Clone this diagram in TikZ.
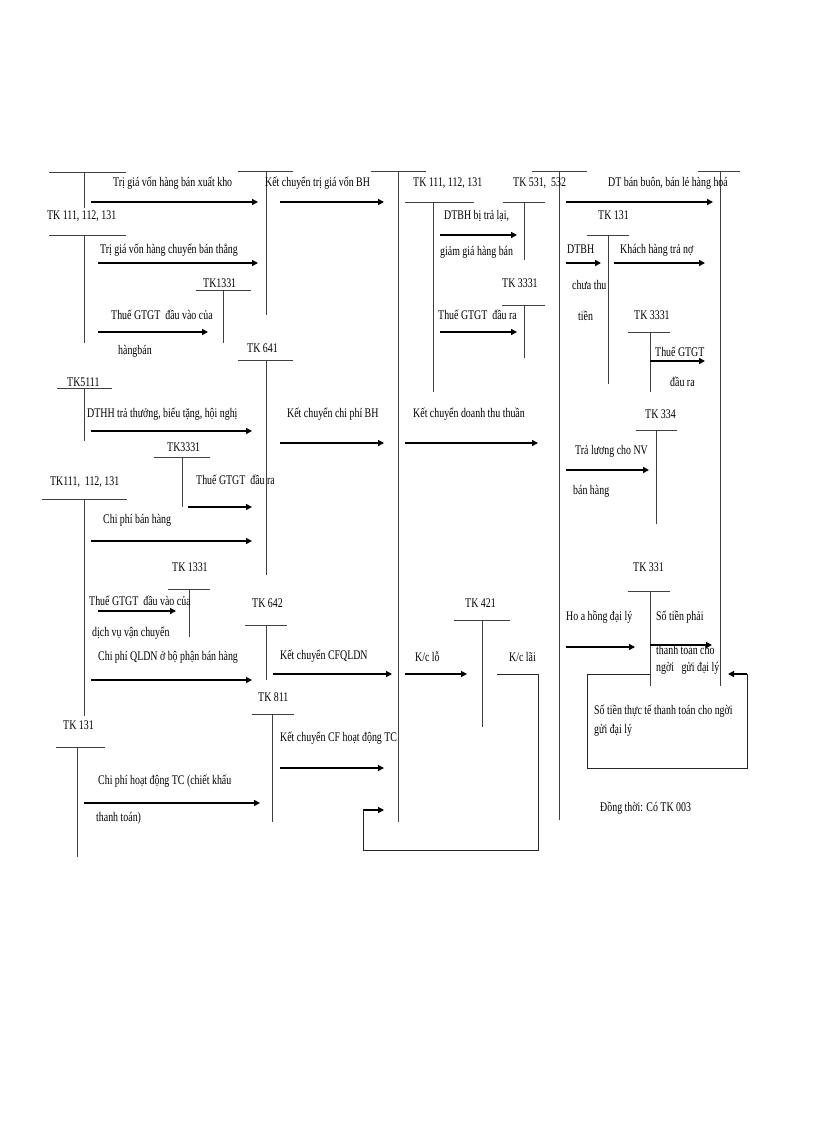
\documentclass[tikz,border=0pt]{standalone}
\usepackage{fontspec}
\setmainfont{Liberation Serif}[FakeStretch=0.75]
\usetikzlibrary{arrows.meta}
\tikzset{
  tline/.style={draw=black!75, line width=0.9pt},
  arrline/.style={draw=black, line width=1.3pt, -{Triangle[length=6pt,width=6pt]}},
  plainline/.style={draw=black!85, line width=1pt},
  lab/.style={anchor=base west, inner sep=0pt, font=\fontsize{13.2}{15}\selectfont}
}
\newcommand\tacc[6]{%
  \coordinate (#1-l) at (#2,#4); \coordinate (#1-r) at (#3,#4);
  \coordinate (#1-t) at (#5,#4); \coordinate (#1-b) at (#5,#6);
  \draw[tline] (#1-l) -- (#1-r); \draw[tline] (#1-t) -- (#1-b);}
\newcommand\harr[4]{%
  \coordinate (#1-s) at (#2,#4); \coordinate (#1-e) at (#3,#4);
  \draw[arrline] (#1-s) -- (#1-e);}
\newcommand\lbl[4]{\node[lab] (#1) at (#2,#3) {#4};}
\begin{document}
\begin{tikzpicture}[x=1pt,y=-1pt]
\useasboundingbox (0,0) rectangle (816,1123);
% T accounts
\tacc{t1}{49}{126}{172}{84}{208}
\tacc{t2}{49}{126}{235}{84}{343}
\tacc{t3}{196}{251}{290}{223}{343}
\tacc{t4}{238}{293}{171}{266}{315}
\tacc{t5}{371}{426}{171}{398}{822}
\tacc{t6}{405}{474}{202}{433}{392}
\tacc{t7}{503}{545}{202}{524}{260}
\tacc{t8}{502}{545}{305}{524}{358}
\tacc{t9}{532}{587}{171}{559}{820}
\tacc{t10}{698}{740}{171}{720}{686}
\tacc{t11}{587}{629}{235}{608}{384}
\tacc{t12}{628}{670}{332}{650}{392}
\tacc{t13}{238}{293}{360}{266}{575}
\tacc{t14}{57}{112}{388}{84}{441}
\tacc{t15}{154}{210}{457}{182}{507}
\tacc{t16}{42}{127}{499}{84}{716}
\tacc{t17}{168}{210}{589}{189}{637}
\tacc{t18}{636}{677}{430}{656}{524}
\tacc{t19}{245}{287}{625}{266}{680}
\tacc{t20}{454}{510}{620}{482}{727}
\tacc{t21}{628}{670}{591}{650}{686}
\tacc{t22}{252}{294}{714}{272}{822}
\tacc{t23}{56}{105}{747}{77}{857}
% arrows
\harr{a1}{91}{258}{202}
\harr{a2}{98}{258}{263}
\harr{a3}{98}{208}{332}
\harr{a4}{280}{384}{202}
\harr{a5}{440}{517}{235}
\harr{a6}{440}{517}{332}
\harr{a7}{566}{713}{202}
\harr{a8}{566}{601}{263}
\harr{a9}{614}{705}{263}
\harr{a10}{650}{705}{361}
\harr{a11}{91}{252}{431}
\harr{a12}{188}{252}{507}
\harr{a13}{91}{252}{541}
\harr{a14}{98}{176}{611}
\harr{a15}{280}{384}{443}
\harr{a16}{405}{538}{443}
\harr{a17}{566}{649}{470}
\harr{a18}{91}{252}{680}
\harr{a19}{273}{392}{674}
\harr{a20}{405}{467}{674}
\harr{a21}{280}{384}{768}
\harr{a22}{84}{260}{803}
\harr{a23}{566}{635}{647}
\harr{a24}{650}{712}{645}
% loops
\coordinate (p1a) at (497,674); \coordinate (p1b) at (538,674);
\coordinate (p1c) at (538,850); \coordinate (p1d) at (363,850);
\coordinate (p1e) at (363,810); \coordinate (p1f) at (384,810);
\draw[plainline] (p1a) -- (p1b) -- (p1c) -- (p1d) -- (p1e);
\draw[arrline] (p1e) -- (p1f);
\coordinate (p2a) at (650,674); \coordinate (p2b) at (587,674);
\coordinate (p2c) at (587,768); \coordinate (p2d) at (747,768);
\coordinate (p2e) at (747,674); \coordinate (p2f) at (728,674);
\draw[plainline] (p2a) -- (p2b) -- (p2c) -- (p2d) -- (p2e);
\draw[arrline] (p2e) -- (p2f);
% labels
\lbl{l1}{113}{187}{Trị  giá vốn hàng bán xuất kho}
\lbl{l2}{47}{219}{TK 111, 112, 131}
\lbl{l3}{100}{254}{Trị  giá vốn hàng chuyển bán thẳng}
\lbl{l4}{203}{287}{TK1331}
\lbl{l5}{111}{319}{Thuế GTGT \ đầu vào của}
\lbl{l6}{118}{354}{hàngbán}
\lbl{l7}{265}{187}{Kết chuyển trị  giá vốn BH}
\lbl{l8}{413}{187}{TK 111, 112, 131}
\lbl{l9}{444}{219}{DTBH  bị trả lại,}
\lbl{l10}{440}{255}{giảm  giá hàng bán}
\lbl{l11}{513}{187}{TK 531, \ 532}
\lbl{l12}{502}{287}{TK 3331}
\lbl{l13}{438}{319}{Thuế GTGT \ đầu ra}
\lbl{l14}{608}{187}{DT  bán buôn, bán lẻ hàng hoá}
\lbl{l15}{598}{220}{TK 131}
\lbl{l16}{567}{254}{DTBH}
\lbl{l17}{620}{254}{Khách hàng trả nợ}
\lbl{l18}{572}{289}{chưa thu}
\lbl{l19}{578}{320}{tiền}
\lbl{l20}{634}{319}{TK 3331}
\lbl{l21}{655}{356}{Thuế GTGT}
\lbl{l22}{670}{386}{đầu ra}
\lbl{l23}{247}{352}{TK 641}
\lbl{l24}{67}{386}{TK5111}
\lbl{l25}{87}{417}{DTHH  trả thưởng, biếu tặng, hội nghị}
\lbl{l26}{287}{417}{Kết chuyển chi phí BH}
\lbl{l27}{413}{417}{Kết chuyển doanh thu thuần}
\lbl{l28}{645}{418}{TK 334}
\lbl{l29}{167}{451}{TK3331}
\lbl{l30}{575}{454}{Trả lương cho NV}
\lbl{l31}{50}{485}{TK111, \ 112, 131}
\lbl{l32}{196}{484}{Thuế GTGT \ đầu ra}
\lbl{l33}{573}{494}{bán hàng}
\lbl{l34}{103}{523}{Chi phí bán hàng}
\lbl{l35}{172}{571}{TK 1331}
\lbl{l36}{633}{571}{TK 331}
\lbl{l37}{89}{605}{Thuế GTGT \ đầu vào của}
\lbl{l38}{252}{607}{TK 642}
\lbl{l39}{465}{607}{TK 421}
\lbl{l40}{92}{636}{dịch vụ vận chuyển}
\lbl{l41}{566}{620}{Ho a hồng đại lý}
\lbl{l42}{656}{620}{Số tiền phải}
\lbl{l43}{98}{660}{Chi  phí QLDN ở bộ phận bán hàng}
\lbl{l44}{280}{659}{Kết chuyển CFQLDN}
\lbl{l45}{415}{661}{K/c lỗ}
\lbl{l46}{509}{661}{K/c lãi}
\lbl{l47}{656}{654}{thanh toán cho}
\lbl{l48}{656}{671}{ngời \ \ gửi đại lý}
\lbl{l49}{258}{701}{TK 811}
\lbl{l50}{63}{729}{TK 131}
\lbl{l51}{280}{741}{Kết chuyển CF  hoạt động TC}
\lbl{l52}{594}{714}{Số tiền thực tế thanh toán cho  ngời}
\lbl{l53}{594}{733}{gửi đại lý}
\lbl{l54}{98}{784}{Chi  phí hoạt động TC (chiết khấu}
\lbl{l55}{96}{821}{thanh toán)}
\lbl{l56}{600}{811}{Đồng thời: Có TK 003}
\end{tikzpicture}
\end{document}
